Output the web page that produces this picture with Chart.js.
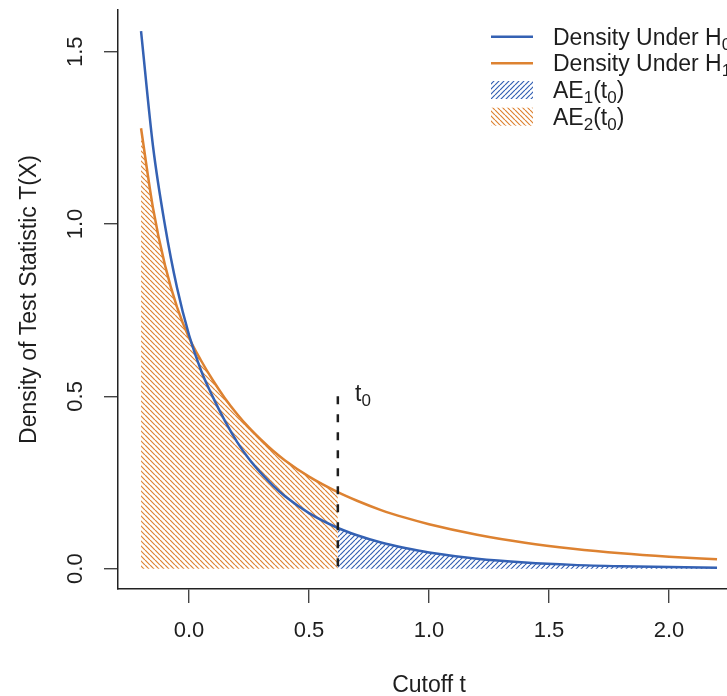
<!DOCTYPE html>
<html>
<head>
<meta charset="utf-8">
<script src="https://cdn.jsdelivr.net/npm/chart.js@4.4.1/dist/chart.umd.min.js"></script>
<style>
  html, body { margin: 0; padding: 0; background: #fff; }
  #chart { display: block; }
</style>
</head>
<body>
<canvas id="chart" width="727" height="696"></canvas>
<script>
// cutoff values and the two densities read along them
const cutoffs   = [-0.2, -0.15, -0.1, -0.05, 0, 0.05, 0.1, 0.15, 0.2, 0.25, 0.3, 0.35, 0.4, 0.5, 0.62, 0.7, 0.8, 0.9, 1.0, 1.2, 1.4, 1.6, 1.8, 2.0, 2.2];
const densityH0 = [1.56, 1.225, 0.995, 0.815, 0.678, 0.575, 0.497, 0.428, 0.368, 0.318, 0.277, 0.241, 0.210, 0.161, 0.118, 0.097, 0.076, 0.060, 0.047, 0.029, 0.018, 0.011, 0.007, 0.0045, 0.003];
const densityH1 = [1.278, 1.046, 0.880, 0.759, 0.670, 0.604, 0.546, 0.494, 0.449, 0.409, 0.374, 0.342, 0.314, 0.267, 0.222, 0.197, 0.170, 0.148, 0.129, 0.0986, 0.0753, 0.058, 0.0448, 0.0349, 0.0272];

const t0 = 0.62;
const t0Top = 0.5;

const xTicks = [0, 0.5, 1, 1.5, 2];
const xTickLabels = ['0.0', '0.5', '1.0', '1.5', '2.0'];
const yTicks = [0, 0.5, 1, 1.5];
const yTickLabels = ['0.0', '0.5', '1.0', '1.5'];

const BLUE = '#3461b3';
const ORANGE = '#dd8231';
const INK = '#1e1e1e';
const FONT = '"Liberation Sans", Arial, Helvetica, sans-serif';
const FS = 23;
const TICK_FS = 22;

function hatch(color, size, dir) {
    const c = document.createElement('canvas');
    c.width = size;
    c.height = size;
    const g = c.getContext('2d');
    g.strokeStyle = color;
    g.lineWidth = 1.2;
    g.beginPath();
    for (let k = -1; k <= 1; k++) {
        if (dir === 'down') {
            g.moveTo(k * size, 0);
            g.lineTo(k * size + size, size);
        } else {
            g.moveTo(k * size, size);
            g.lineTo(k * size + size, 0);
        }
    }
    g.stroke();
    return g.createPattern(c, 'repeat');
}

const blueHatch = hatch(BLUE, 5, 'up');
const orangeHatch = hatch(ORANGE, 5, 'down');

function points(xs, ys, keep) {
    const out = [];
    for (let i = 0; i < xs.length; i++) {
        if (!keep || keep(xs[i])) out.push({ x: xs[i], y: ys[i] });
    }
    return out;
}

// text with subscripts, e.g. [{t:'AE'},{t:'1',sub:true}]
function drawRich(ctx, parts, x, y, size) {
    let cx = x;
    parts.forEach(p => {
        const fs = p.sub ? Math.round(size * 0.72) : size;
        ctx.font = fs + 'px ' + FONT;
        ctx.fillText(p.t, cx, p.sub ? y + size * 0.22 : y);
        cx += ctx.measureText(p.t).width;
    });
}

const annotations = {
    id: 'annotations',
    afterDraw(chart) {
        const ctx = chart.ctx;
        const xs = chart.scales.x;
        const ys = chart.scales.y;
        const area = chart.chartArea;
        ctx.save();
        ctx.fillStyle = INK;
        ctx.font = TICK_FS + 'px ' + FONT;

        // x tick labels
        ctx.textAlign = 'center';
        ctx.textBaseline = 'middle';
        xTicks.forEach((v, i) => ctx.fillText(xTickLabels[i], xs.getPixelForValue(v), 631));

        // y tick labels, rotated like R's default
        yTicks.forEach((v, i) => {
            ctx.save();
            ctx.translate(76, ys.getPixelForValue(v));
            ctx.rotate(-Math.PI / 2);
            ctx.fillText(yTickLabels[i], 0, 0);
            ctx.restore();
        });

        // axis titles
        ctx.font = FS + 'px ' + FONT;
        ctx.fillText('Cutoff t', xs.getPixelForValue(1), 686);
        ctx.save();
        ctx.translate(30, (area.top + area.bottom) / 2);
        ctx.rotate(-Math.PI / 2);
        ctx.fillText('Density of Test Statistic T(X)', 0, 0);
        ctx.restore();

        // t0 marker label
        ctx.textAlign = 'left';
        ctx.textBaseline = 'alphabetic';
        drawRich(ctx, [{ t: 't' }, { t: '0', sub: true }], xs.getPixelForValue(t0 + 0.072), ys.getPixelForValue(t0Top) + 5, FS);

        // legend
        const lx0 = 491, lx1 = 533, tx = 553;
        const rows = [36.7, 63.3, 90, 116.7];
        ctx.lineWidth = 2.5;
        ctx.strokeStyle = BLUE;
        ctx.beginPath(); ctx.moveTo(lx0, rows[0]); ctx.lineTo(lx1, rows[0]); ctx.stroke();
        ctx.strokeStyle = ORANGE;
        ctx.beginPath(); ctx.moveTo(lx0, rows[1]); ctx.lineTo(lx1, rows[1]); ctx.stroke();
        ctx.fillStyle = blueHatch;
        ctx.fillRect(lx0, rows[2] - 9, lx1 - lx0, 18);
        ctx.fillStyle = orangeHatch;
        ctx.fillRect(lx0, rows[3] - 9, lx1 - lx0, 18);

        ctx.fillStyle = INK;
        drawRich(ctx, [{ t: 'Density Under H' }, { t: '0', sub: true }], tx, rows[0] + 8, FS);
        drawRich(ctx, [{ t: 'Density Under H' }, { t: '1', sub: true }], tx, rows[1] + 8, FS);
        drawRich(ctx, [{ t: 'AE' }, { t: '1', sub: true }, { t: '(t' }, { t: '0', sub: true }, { t: ')' }], tx, rows[2] + 8, FS);
        drawRich(ctx, [{ t: 'AE' }, { t: '2', sub: true }, { t: '(t' }, { t: '0', sub: true }, { t: ')' }], tx, rows[3] + 8, FS);
        ctx.restore();
    }
};

const axisStyle = {
    grid: { drawOnChartArea: false, drawTicks: true, tickLength: 14, color: '#444', lineWidth: 1.4 },
    border: { display: true, color: '#222', width: 1.5 },
    ticks: { display: false }
};

const data = {
    datasets: [{
        label: 't0',
        data: [{ x: t0, y: t0Top }, { x: t0, y: 0 }],
        borderColor: INK,
        borderWidth: 2.5,
        borderDash: [8, 10],
        pointRadius: 0,
        fill: false
    }, {
        label: 'Density Under H0',
        data: points(cutoffs, densityH0),
        borderColor: BLUE,
        borderWidth: 2.5,
        pointRadius: 0,
        cubicInterpolationMode: 'monotone',
        fill: false
    }, {
        label: 'Density Under H1',
        data: points(cutoffs, densityH1),
        borderColor: ORANGE,
        borderWidth: 2.5,
        pointRadius: 0,
        cubicInterpolationMode: 'monotone',
        fill: false
    }, {
        label: 'AE1(t0)',
        data: points(cutoffs, densityH0, x => x >= t0),
        borderColor: 'rgba(0,0,0,0)',
        borderWidth: 1,
        backgroundColor: blueHatch,
        pointRadius: 0,
        cubicInterpolationMode: 'monotone',
        fill: 'origin'
    }, {
        label: 'AE2(t0)',
        data: points(cutoffs, densityH1, x => x <= t0),
        borderColor: 'rgba(0,0,0,0)',
        borderWidth: 1,
        backgroundColor: orangeHatch,
        pointRadius: 0,
        cubicInterpolationMode: 'monotone',
        fill: 'origin'
    }]
};

const config = {
    type: 'line',
    data,
    options: {
        responsive: false,
        animation: false,
        devicePixelRatio: 1,
        layout: { padding: { top: 10, left: 0, right: 0, bottom: 0 } },
        plugins: {
            legend: { display: false },
            tooltip: { enabled: false }
        },
        scales: {
            x: Object.assign({
                type: 'linear',
                min: -0.296,
                max: 2.2415,
                afterBuildTicks: s => { s.ticks = xTicks.map(v => ({ value: v })); },
                afterFit: s => { s.height = 107; }
            }, axisStyle),
            y: Object.assign({
                type: 'linear',
                min: -0.059,
                max: 1.621,
                afterBuildTicks: s => { s.ticks = yTicks.map(v => ({ value: v })); },
                afterFit: s => { s.width = 118; }
            }, axisStyle)
        }
    },
    plugins: [annotations]
};

const ctx = document.getElementById('chart').getContext('2d');
const myChart = new Chart(ctx, config);
</script>
</body>
</html>
